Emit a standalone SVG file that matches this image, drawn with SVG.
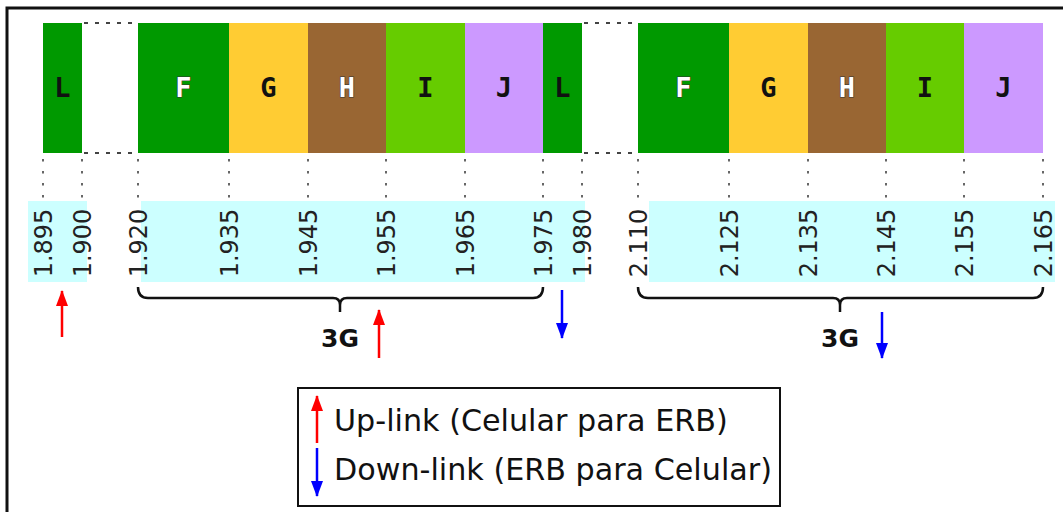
<svg xmlns="http://www.w3.org/2000/svg" width="1063" height="512" viewBox="0 0 1063 512">
<defs>
<style>
.seg{stroke:none}
.lt{font-family:"DejaVu Sans Mono","Liberation Mono",monospace;font-weight:bold;font-size:27px;text-anchor:middle}
.dk{fill:#111}
.wh{fill:#fff;stroke:#333;stroke-width:1.2;paint-order:stroke}
.tick{stroke:#666;stroke-width:2;stroke-dasharray:2.5 9.5;fill:none}
.gapd{stroke:#444;stroke-width:2;stroke-dasharray:4 7;fill:none}
.band{fill:#ccffff}
.num{font-family:"DejaVu Sans",Verdana,sans-serif;font-size:24px;fill:#222;text-anchor:middle}
.brace{fill:none;stroke:#111;stroke-width:2.5;stroke-linejoin:round}
.g3{font-family:"DejaVu Sans",Verdana,sans-serif;font-weight:bold;font-size:25px;fill:#111;text-anchor:middle}
.up{stroke:#ff0000;stroke-width:2.5;fill:none}
.dn{stroke:#0000ff;stroke-width:2.5;fill:none}
.leg{font-family:"DejaVu Sans",Verdana,sans-serif;font-size:30.2px;fill:#111}
</style>
<marker id="hu" viewBox="0 0 16 12" refX="15" refY="6" markerWidth="16" markerHeight="12" markerUnits="userSpaceOnUse" orient="auto">
<path d="M0,0 L16,6 L0,12 Z" fill="#ff0000"/>
</marker>
<marker id="hd" viewBox="0 0 16 12" refX="15" refY="6" markerWidth="16" markerHeight="12" markerUnits="userSpaceOnUse" orient="auto">
<path d="M0,0 L16,6 L0,12 Z" fill="#0000ff"/>
</marker>
</defs>
<rect width="1063" height="512" fill="#fff"/>
<path d="M7,512 V8 H1063" fill="none" stroke="#111" stroke-width="3"/>

<g id="bars">
<g id="L1"><rect class="seg" x="43" y="23" width="39" height="130" fill="#009900"/><text class="lt dk" x="62.5" y="97">L</text></g>
<g id="gap1"><path class="gapd" d="M84,23 H138 M84,153 H138"/></g>
<g id="F1"><rect class="seg" x="138" y="23" width="91" height="130" fill="#009900"/><text class="lt wh" x="183.5" y="97">F</text></g>
<g id="G1"><rect class="seg" x="229" y="23" width="79" height="130" fill="#ffcc33"/><text class="lt dk" x="268.5" y="97">G</text></g>
<g id="H1"><rect class="seg" x="308" y="23" width="78" height="130" fill="#996633"/><text class="lt wh" x="347" y="97">H</text></g>
<g id="I1"><rect class="seg" x="386" y="23" width="79" height="130" fill="#66cc00"/><text class="lt dk" x="425.5" y="97">I</text></g>
<g id="J1"><rect class="seg" x="465" y="23" width="78" height="130" fill="#cc99ff"/><text class="lt dk" x="504" y="97">J</text></g>
<g id="L2"><rect class="seg" x="543" y="23" width="39" height="130" fill="#009900"/><text class="lt dk" x="562.5" y="97">L</text></g>
<g id="gap2"><path class="gapd" d="M584,23 H638 M584,153 H638"/></g>
<g id="F2"><rect class="seg" x="638" y="23" width="91" height="130" fill="#009900"/><text class="lt wh" x="683.5" y="97">F</text></g>
<g id="G2"><rect class="seg" x="729" y="23" width="79" height="130" fill="#ffcc33"/><text class="lt dk" x="768.5" y="97">G</text></g>
<g id="H2"><rect class="seg" x="808" y="23" width="78" height="130" fill="#996633"/><text class="lt wh" x="847" y="97">H</text></g>
<g id="I2"><rect class="seg" x="886" y="23" width="78" height="130" fill="#66cc00"/><text class="lt dk" x="925" y="97">I</text></g>
<g id="J2"><rect class="seg" x="964" y="23" width="79" height="130" fill="#cc99ff"/><text class="lt dk" x="1003.5" y="97">J</text></g>
</g>

<g id="ticks">
<path class="tick" d="M43,159V200 M82,159V200 M138,159V200 M229,159V200 M308,159V200 M386,159V200 M465,159V200 M543,159V200 M582,159V200 M638,159V200 M729,159V200 M808,159V200 M886,159V200 M964,159V200 M1043,159V200"/>
</g>

<g id="bands">
<rect class="band" x="28" y="201" width="59" height="81"/>
<rect class="band" x="141" y="201" width="444" height="81"/>
<rect class="band" x="649" y="201" width="406" height="81"/>
</g>

<g id="labels">
<text class="num" transform="translate(52,243) rotate(-90)">1.895</text>
<text class="num" transform="translate(91,243) rotate(-90)">1.900</text>
<text class="num" transform="translate(147,243) rotate(-90)">1.920</text>
<text class="num" transform="translate(238,243) rotate(-90)">1.935</text>
<text class="num" transform="translate(317,243) rotate(-90)">1.945</text>
<text class="num" transform="translate(395,243) rotate(-90)">1.955</text>
<text class="num" transform="translate(474,243) rotate(-90)">1.965</text>
<text class="num" transform="translate(552,243) rotate(-90)">1.975</text>
<text class="num" transform="translate(591,243) rotate(-90)">1.980</text>
<text class="num" transform="translate(647,243) rotate(-90)">2.110</text>
<text class="num" transform="translate(738,243) rotate(-90)">2.125</text>
<text class="num" transform="translate(817,243) rotate(-90)">2.135</text>
<text class="num" transform="translate(895,243) rotate(-90)">2.145</text>
<text class="num" transform="translate(973,243) rotate(-90)">2.155</text>
<text class="num" transform="translate(1052,243) rotate(-90)">2.165</text>
</g>

<g id="brace1">
<path class="brace" d="M138,287 Q138,298 148,298 H333 Q340,298 340,305 V312 M340,305 Q340,298 347,298 H533 Q543,298 543,287"/>
<text class="g3" x="340" y="347">3G</text>
</g>
<g id="brace2">
<path class="brace" d="M638,287 Q638,298 648,298 H833 Q840,298 840,305 V312 M840,305 Q840,298 847,298 H1033 Q1043,298 1043,287"/>
<text class="g3" x="840" y="347">3G</text>
</g>

<g id="connectors">
<line class="up" x1="62" y1="337" x2="62" y2="291" marker-end="url(#hu)"/>
<line class="dn" x1="562" y1="290" x2="562" y2="338" marker-end="url(#hd)"/>
<line class="up" x1="379" y1="358" x2="379" y2="310" marker-end="url(#hu)"/>
<line class="dn" x1="882" y1="312" x2="882" y2="358" marker-end="url(#hd)"/>
</g>

<g id="legend">
<rect x="298" y="388" width="482" height="118" fill="#fff" stroke="#111" stroke-width="2"/>
<line class="up" x1="317" y1="443" x2="317" y2="396" marker-end="url(#hu)"/>
<line class="dn" x1="317" y1="448" x2="317" y2="496" marker-end="url(#hd)"/>
<text class="leg" x="334" y="431">Up-link (Celular para ERB)</text>
<text class="leg" x="334" y="480">Down-link (ERB para Celular)</text>
</g>
</svg>
